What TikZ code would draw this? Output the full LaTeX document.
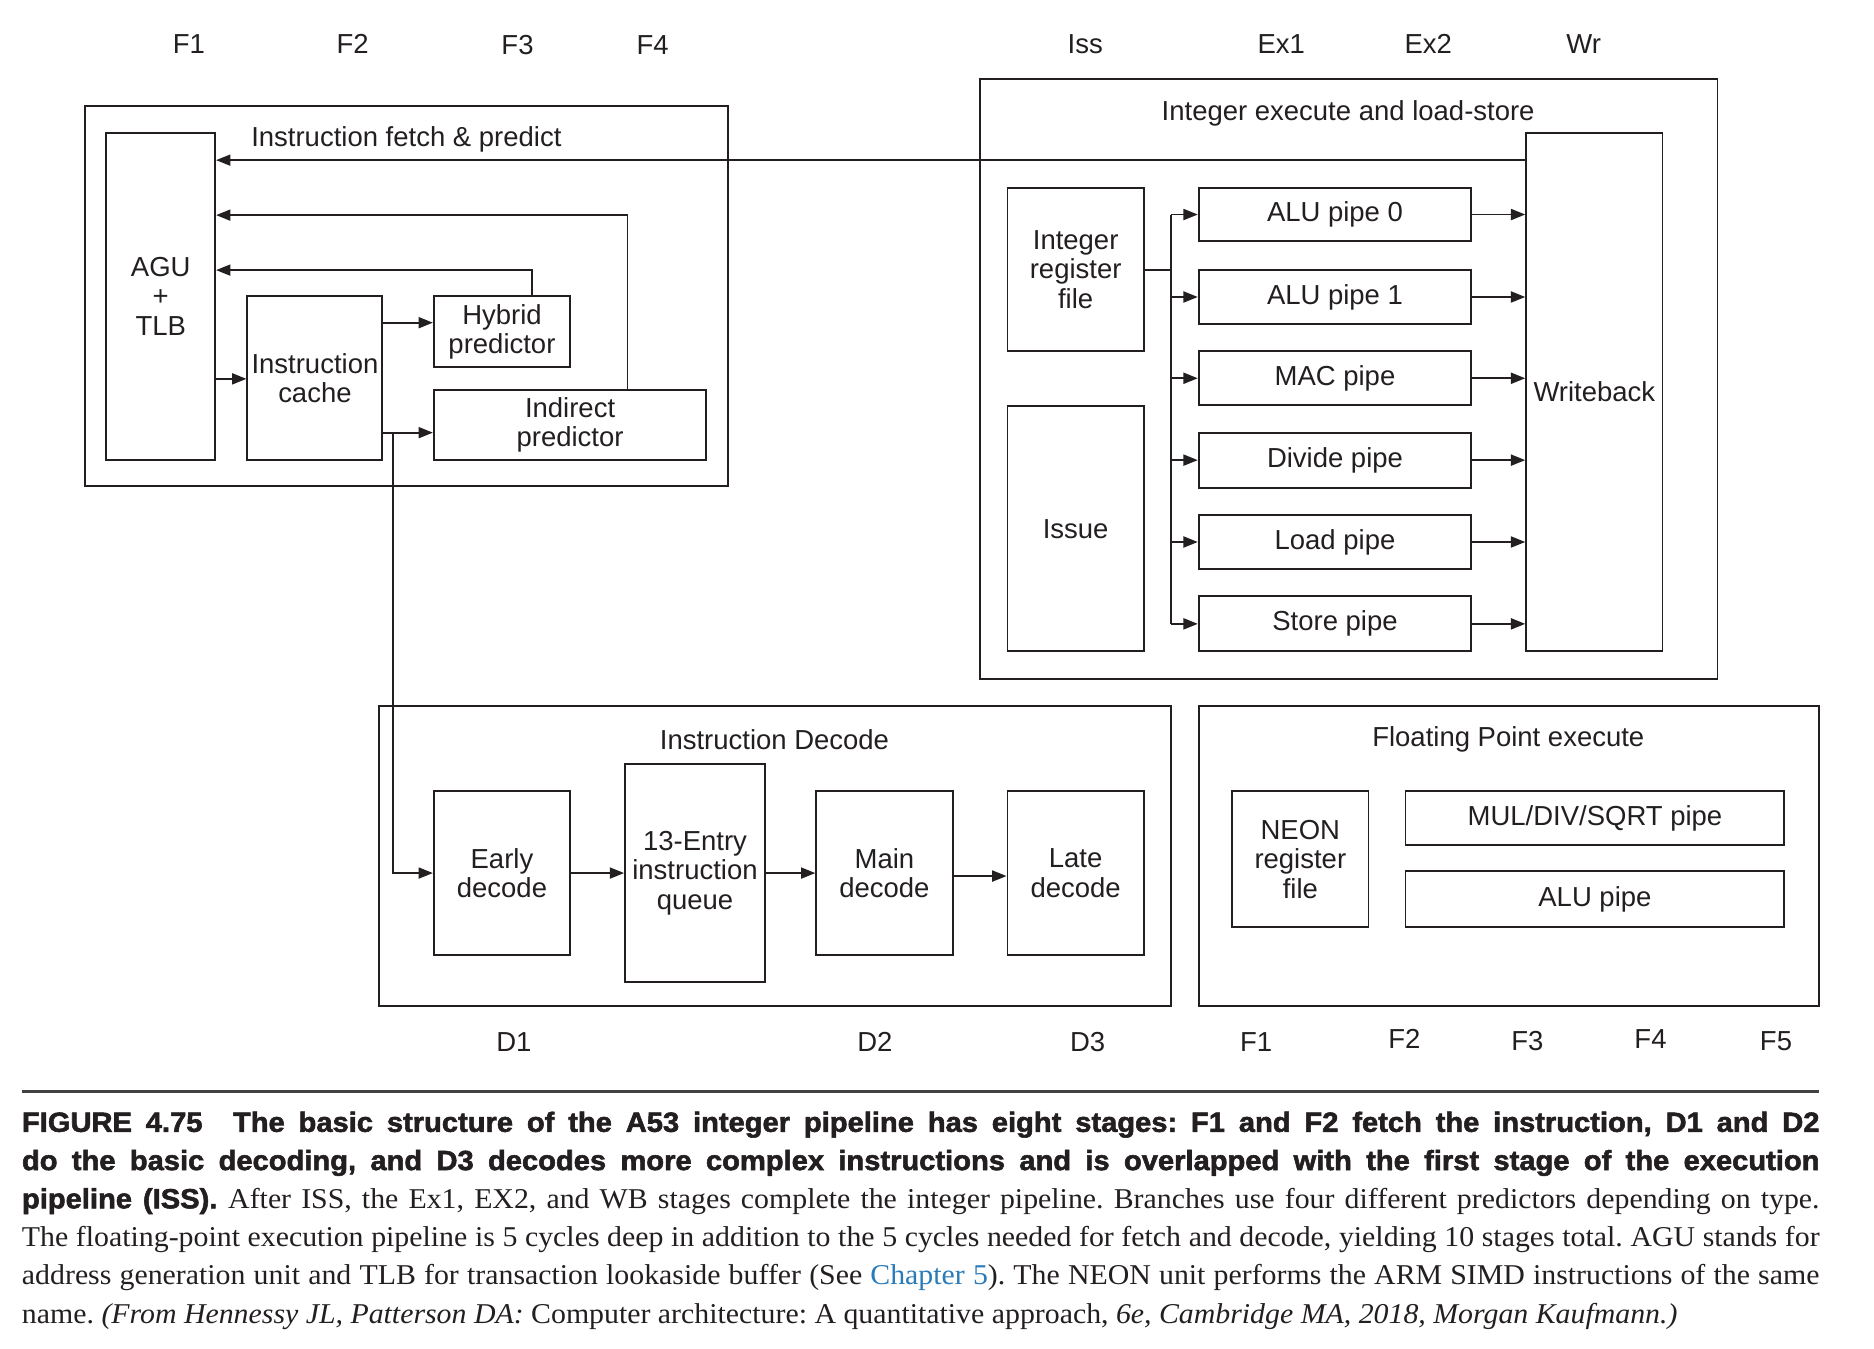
\documentclass[tikz,border=0pt]{standalone}
\usepackage{fontspec}
\setmainfont{Liberation Sans}
\newfontfamily\capsans{Liberation Sans}[FakeStretch=1.05, BoldFeatures={FakeBold=2}]
\newfontfamily\capserif{Liberation Serif}[FakeStretch=1.04]
\usetikzlibrary{arrows.meta,calc}
\definecolor{ink}{HTML}{231F20}
\definecolor{linkblue}{HTML}{2B7BB9}
\frenchspacing
% \bx[style]{name}{x1}{y1}{x2}{y2}{text}: box given by its corners
\newcommand\bx[7][blk]{\node[#1, minimum width={(#5-#3)*0.5pt}, minimum height={(#6-#4)*0.5pt}] (#2) at ({(#3+#5)/2},{(#4+#6)/2}) {#7};}
\begin{document}
\begin{tikzpicture}[x=0.5pt,y=-0.5pt,
  lbl/.style={font=\fontsize{11.5}{12.3}\selectfont, text=ink, inner sep=0pt, align=center},
  blk/.style={lbl, draw=ink, line width=0.8pt},
  grp/.style={draw=ink, line width=0.8pt, inner sep=0pt},
  wire/.style={draw=ink, line width=0.8pt},
  arr/.style={wire, -{Triangle[length=6pt,width=4.6pt]}},
  capline/.style={anchor=base west, inner sep=0pt, text=ink},
]
\fill[white] (0,0) rectangle (1568,1128);
\useasboundingbox (0,0) rectangle (1568,1128);

% stage labels
\foreach \t/\x/\y in {F1/158/37, F2/295/37, F3/433/38, F4/546/38, Iss/908/37, Ex1/1072/37, Ex2/1195/37, Wr/1325/37,
  D1/430/872, D2/732/872, D3/910/872, F1/1051/872, F2/1175/869, F3/1278/871, F4/1381/869, F5/1486/871}
  \node[lbl] (stage-\t-\x) at (\x,\y) {\t};

% group frames
\bx[grp]{fetch}{71}{89}{609}{407}{}
\bx[grp]{intex}{820}{66}{1437}{568}{}
\bx[grp]{dec}{317}{591}{980}{842}{}
\bx[grp]{fp}{1003}{591}{1522}{842}{}
\node[lbl] (fetch-t) at (340,117) {Instruction fetch \& predict};
\node[lbl] (intex-t) at (1128,95) {Integer execute and load-store};
\node[lbl] (dec-t) at (648,619) {Instruction Decode};
\node[lbl] (fp-t) at (1262,619) {Floating Point execute};

% fetch & predict
\bx{agu}{89}{111}{180}{385}{AGU\\+\\TLB}
\bx{ic}{207}{248}{320}{385}{Instruction\\cache}
\bx{hyb}{363}{248}{477}{307}{Hybrid\\predictor}
\bx{ind}{363}{326}{591}{385}{Indirect\\predictor}

% integer execute
\bx{irf}{843}{157}{957}{294}{Integer\\register\\file}
\bx{iss}{843}{340}{957}{545}{Issue}
\bx{alu0}{1003}{157}{1231}{202}{ALU pipe 0}
\bx{alu1}{1003}{226}{1231}{271}{ALU pipe 1}
\bx{mac}{1003}{294}{1231}{339}{MAC pipe}
\bx{div}{1003}{362}{1231}{408}{Divide pipe}
\bx{load}{1003}{431}{1231}{476}{Load pipe}
\bx{store}{1003}{499}{1231}{545}{Store pipe}
\bx{wb}{1277}{111}{1391}{545}{Writeback}

% decode
\bx{ed}{363}{662}{477}{799}{Early\\decode}
\bx{q}{523}{639}{640}{822}{13-Entry\\instruction\\queue}
\bx{md}{683}{662}{797}{799}{Main\\decode}
\bx{ld}{843}{662}{957}{799}{Late\\decode}

% floating point
\bx{neon}{1031}{662}{1145}{776}{NEON\\register\\file}
\bx{mds}{1176}{662}{1493}{707}{MUL/DIV/SQRT pipe}
\bx{fpalu}{1176}{729}{1493}{776}{ALU pipe}

% fetch connectors
\draw[arr] (wb.west |- 0,134) -- (agu.east |- 0,134);
\draw[arr] (ind.north -| 525,0) |- (agu.east |- 0,180);
\draw[arr] (hyb.north -| 445,0) |- (agu.east |- 0,226);
\draw[arr] (agu.east |- 0,317) -- (ic.west |- 0,317);
\draw[arr] (ic.east |- 0,270) -- (hyb.west |- 0,270);
\draw[arr] (ic.east |- 0,362) -- (ind.west |- 0,362);
\coordinate (tap) at (329,362);
\draw[arr] (tap) |- (ed.west);

% decode chain
\draw[arr] (ed.east) -- (q.west |- ed.east);
\draw[arr] (q.east |- ed.east) -- (md.west);
\draw[arr] (md.east |- 0,733) -- (ld.west |- 0,733);

% integer issue bus
\coordinate (bus-top) at (980,180);
\coordinate (bus-bot) at (980,522);
\draw[wire] (bus-top) -- (bus-bot);
\draw[wire] (irf.east |- 0,226) -- (bus-top |- 0,226);
\foreach \p in {alu0,alu1,mac,div,load,store}{
  \draw[arr] (bus-top |- \p.west) -- (\p.west);
  \draw[arr] (\p.east) -- (wb.west |- \p.east);
}

% caption
\draw[ink!85, line width=1.2pt] (18,913) -- (1522,913);
\node[capline] (cap1) at (18,947) {\makebox[752pt][s]{\capsans\bfseries\fontsize{11.6}{12}\selectfont FIGURE 4.75\hspace{1.1em}The basic structure of the A53 integer pipeline has eight stages: F1 and F2 fetch the instruction, D1 and D2}};
\node[capline] (cap2) at (18,979) {\makebox[752pt][s]{\capsans\bfseries\fontsize{11.6}{12}\selectfont do the basic decoding, and D3 decodes more complex instructions and is overlapped with the first stage of the execution}};
\node[capline] (cap3) at (18,1011) {\makebox[752pt][s]{\fontsize{12}{14}\selectfont{\capsans\bfseries\fontsize{11.6}{12}\selectfont pipeline (ISS).} \capserif After ISS, the Ex1, EX2, and WB stages complete the integer pipeline. Branches use four different predictors depending on type.}};
\node[capline] (cap4) at (18,1043) {\makebox[752pt][s]{\capserif\fontsize{12}{14}\selectfont The floating-point execution pipeline is 5 cycles deep in addition to the 5 cycles needed for fetch and decode, yielding 10 stages total. AGU stands for}};
\node[capline] (cap5) at (18,1075) {\makebox[752pt][s]{\capserif\fontsize{12}{14}\selectfont address generation unit and TLB for transaction lookaside buffer (See \textcolor{linkblue}{Chapter 5}). The NEON unit performs the ARM SIMD instructions of the same}};
\node[capline] (cap6) at (18,1107) {\capserif\fontsize{12}{14}\selectfont name. \textit{(From Hennessy JL, Patterson DA:} Computer architecture: A quantitative approach, \textit{6e, Cambridge MA, 2018, Morgan Kaufmann.)}};
\end{tikzpicture}
\end{document}
